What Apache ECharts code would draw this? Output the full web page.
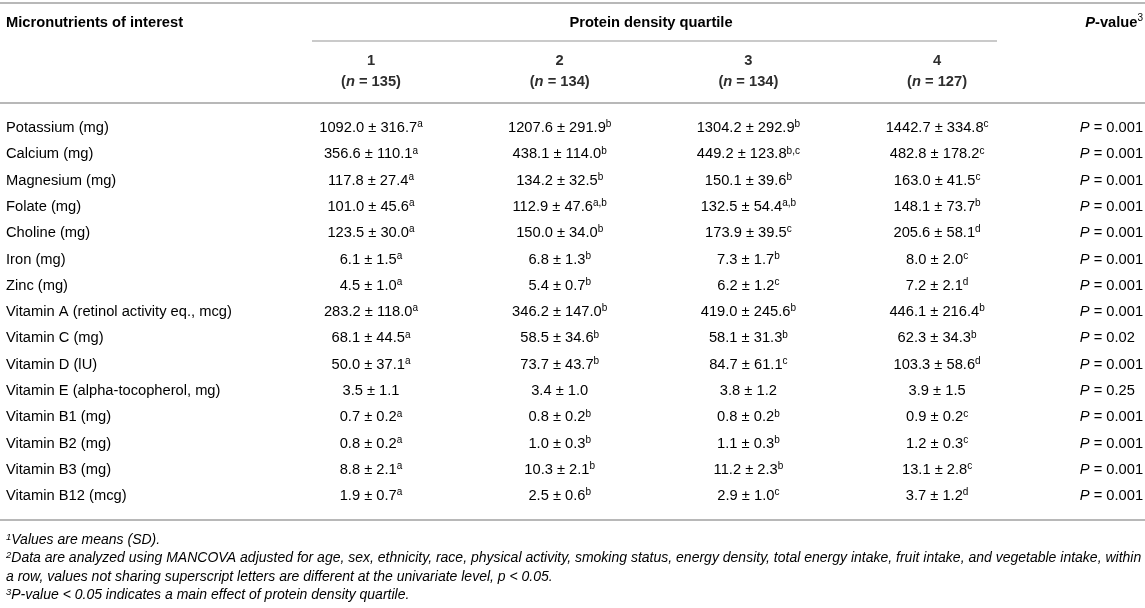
<html>
<head>
<script src="https://cdn.jsdelivr.net/npm/echarts@6/dist/echarts.min.js"></script>
</head>
<body style="margin:0;background:#fff">
<div id="main" style="width:1145px;height:608px;"></div>
<script>
// table contents
var nutrients = ['Potassium (mg)', 'Calcium (mg)', 'Magnesium (mg)', 'Folate (mg)', 'Choline (mg)',
    'Iron (mg)', 'Zinc (mg)', 'Vitamin A (retinol activity eq., mcg)', 'Vitamin C (mg)', 'Vitamin D (lU)',
    'Vitamin E (alpha-tocopherol, mg)', 'Vitamin B1 (mg)', 'Vitamin B2 (mg)', 'Vitamin B3 (mg)', 'Vitamin B12 (mcg)'];

var q1Mean = [1092.0, 356.6, 117.8, 101.0, 123.5, 6.1, 4.5, 283.2, 68.1, 50.0, 3.5, 0.7, 0.8, 8.8, 1.9];
var q1Sd   = [316.7, 110.1, 27.4, 45.6, 30.0, 1.5, 1.0, 118.0, 44.5, 37.1, 1.1, 0.2, 0.2, 2.1, 0.7];
var q1Sup  = ['a', 'a', 'a', 'a', 'a', 'a', 'a', 'a', 'a', 'a', '', 'a', 'a', 'a', 'a'];

var q2Mean = [1207.6, 438.1, 134.2, 112.9, 150.0, 6.8, 5.4, 346.2, 58.5, 73.7, 3.4, 0.8, 1.0, 10.3, 2.5];
var q2Sd   = [291.9, 114.0, 32.5, 47.6, 34.0, 1.3, 0.7, 147.0, 34.6, 43.7, 1.0, 0.2, 0.3, 2.1, 0.6];
var q2Sup  = ['b', 'b', 'b', 'a,b', 'b', 'b', 'b', 'b', 'b', 'b', '', 'b', 'b', 'b', 'b'];

var q3Mean = [1304.2, 449.2, 150.1, 132.5, 173.9, 7.3, 6.2, 419.0, 58.1, 84.7, 3.8, 0.8, 1.1, 11.2, 2.9];
var q3Sd   = [292.9, 123.8, 39.6, 54.4, 39.5, 1.7, 1.2, 245.6, 31.3, 61.1, 1.2, 0.2, 0.3, 2.3, 1.0];
var q3Sup  = ['b', 'b,c', 'b', 'a,b', 'c', 'b', 'c', 'b', 'b', 'c', '', 'b', 'b', 'b', 'c'];

var q4Mean = [1442.7, 482.8, 163.0, 148.1, 205.6, 8.0, 7.2, 446.1, 62.3, 103.3, 3.9, 0.9, 1.2, 13.1, 3.7];
var q4Sd   = [334.8, 178.2, 41.5, 73.7, 58.1, 2.0, 2.1, 216.4, 34.3, 58.6, 1.5, 0.2, 0.3, 2.8, 1.2];
var q4Sup  = ['c', 'c', 'c', 'b', 'd', 'c', 'd', 'b', 'b', 'd', '', 'c', 'c', 'c', 'd'];

var pValues = ['0.001', '0.001', '0.001', '0.001', '0.001', '0.001', '0.001', '0.001',
    '0.02', '0.001', '0.25', '0.001', '0.001', '0.001', '0.001'];

var quartiles = ['1', '2', '3', '4'];
var quartileN = [135, 134, 134, 127];

var footnotes = [
    ['1', 'Values are means (SD).'],
    ['2', 'Data are analyzed using MANCOVA adjusted for age, sex, ethnicity, race, physical activity, smoking status, energy density, total energy intake, fruit intake, and vegetable intake, within'],
    ['', 'a row, values not sharing superscript letters are different at the univariate level, p < 0.05.'],
    ['3', 'P-value < 0.05 indicates a main effect of protein density quartile.']
];

var FONT = '"Liberation Sans", Arial, Helvetica, sans-serif';
var TXT = '#2e2e2e';
var RULE = '#b8b8b8';
var FS = 14.7;

var quartileData = [
    { mean: q1Mean, sd: q1Sd, sup: q1Sup },
    { mean: q2Mean, sd: q2Sd, sup: q2Sup },
    { mean: q3Mean, sd: q3Sd, sup: q3Sup },
    { mean: q4Mean, sd: q4Sd, sup: q4Sup }
];
var columns = ['name', 'q1', 'q2', 'q3', 'q4', 'p'];

// superscripts: small token, lifted with bottom padding
var rich = {
    t: { fontFamily: FONT, fontSize: FS, lineHeight: 18, color: TXT },
    i: { fontFamily: FONT, fontSize: FS, lineHeight: 18, color: TXT, fontStyle: 'italic' },
    s: { fontFamily: FONT, fontSize: 10, lineHeight: 10, color: TXT, padding: [0, 0, 7, 0] },
    b: { fontFamily: FONT, fontSize: FS, lineHeight: 21, color: TXT, fontWeight: 'bold' },
    bi: { fontFamily: FONT, fontSize: FS, lineHeight: 21, color: TXT, fontWeight: 'bold', fontStyle: 'italic' },
    bs: { fontFamily: FONT, fontSize: 10, lineHeight: 10, color: TXT, padding: [0, 0, 10, 0] },
    f: { fontFamily: FONT, fontSize: 14, lineHeight: 16, color: TXT, fontStyle: 'italic' },
    fs: { fontFamily: FONT, fontSize: 9.5, lineHeight: 9, color: TXT, fontStyle: 'italic', padding: [0, 0, 6, 0] }
};

function cellText(c, i) {
    if (c === 0) return '{t|' + nutrients[i] + '}';
    if (c === 5) return '{i|P}{t| = ' + pValues[i] + '}';
    var q = quartileData[c - 1];
    var s = '{t|' + q.mean[i].toFixed(1) + ' \u00b1 ' + q.sd[i].toFixed(1) + '}';
    if (q.sup[i]) s += '{s|' + q.sup[i] + '}';
    return s;
}

var cells = [];
nutrients.forEach(function (n, i) {
    for (var c = 0; c < columns.length; c++) cells.push([c, i]);
});

var myChart = echarts.init(document.getElementById('main'));

var graphics = [
    { type: 'line', shape: { x1: 0, y1: 3, x2: 1145, y2: 3 }, style: { stroke: RULE, lineWidth: 2 } },
    { type: 'line', shape: { x1: 312, y1: 41, x2: 997, y2: 41 }, style: { stroke: RULE, lineWidth: 1.5 } },
    { type: 'line', shape: { x1: 0, y1: 103, x2: 1145, y2: 103 }, style: { stroke: RULE, lineWidth: 2 } },
    { type: 'line', shape: { x1: 0, y1: 520, x2: 1145, y2: 520 }, style: { stroke: RULE, lineWidth: 2 } },
    { type: 'text', x: 6, y: 23, style: { text: '{b|Micronutrients of interest}', rich: rich, verticalAlign: 'middle' } },
    { type: 'text', x: 651, y: 23, style: { text: '{b|Protein density quartile}', rich: rich, align: 'center', verticalAlign: 'middle' } },
    { type: 'text', x: 1143, y: 23, style: { text: '{bi|P}{b|-value}{bs|3}', rich: rich, align: 'right', verticalAlign: 'middle' } }
];
footnotes.forEach(function (fn, k) {
    graphics.push({
        type: 'text', x: 6, y: 540 + k * 18.5,
        style: { text: (fn[0] ? '{fs|' + fn[0] + '}' : '') + '{f|' + fn[1] + '}', rich: rich, verticalAlign: 'middle' }
    });
});

var option = {
    animation: false,
    grid: { left: 182.3, top: 114.85, width: 943.5, height: 394.5, containLabel: false },
    xAxis: {
        type: 'category',
        data: columns,
        boundaryGap: false,
        position: 'top',
        axisLine: { show: false },
        axisTick: { show: false },
        splitLine: { show: false },
        axisLabel: {
            interval: 0,
            margin: 22,
            rich: rich,
            formatter: function (v, idx) {
                if (idx < 1 || idx > 4) return '';
                return '{b|' + quartiles[idx - 1] + '}\n{b|(}{bi|n}{b| = ' + quartileN[idx - 1] + ')}';
            }
        }
    },
    yAxis: { type: 'category', data: nutrients, inverse: true, show: false },
    graphic: graphics,
    series: [{
        type: 'custom',
        data: cells,
        renderItem: function (params, api) {
            var c = api.value(0), i = api.value(1);
            var pt = api.coord([c, i]);
            var x = pt[0], align = 'center';
            if (c === 0) { x = 6; align = 'left'; }
            if (c === 5) { x = pt[0] - 46; align = 'left'; }
            return {
                type: 'text', x: x, y: pt[1],
                style: { text: cellText(c, i), rich: rich, align: align, verticalAlign: 'middle' }
            };
        }
    }]
};
myChart.setOption(option);
</script>
</body>
</html>
